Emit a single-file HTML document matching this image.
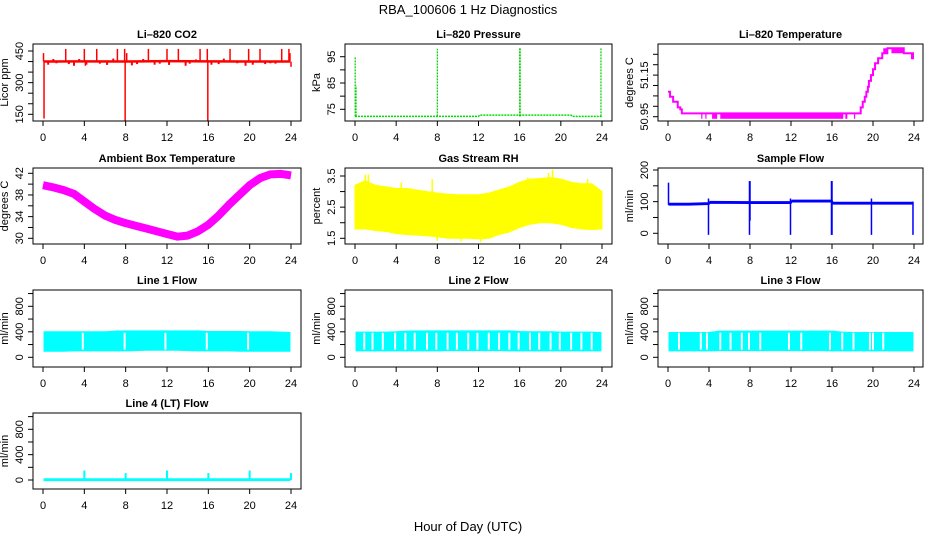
<!DOCTYPE html>
<html><head><meta charset="utf-8"><style>
body{margin:0;background:#fff;}
svg{display:block;font-family:"Liberation Sans",Arial,sans-serif;}
</style></head><body>
<svg id="chart" width="936" height="540" viewBox="0 0 936 540" xmlns="http://www.w3.org/2000/svg">
<rect width="936" height="540" fill="#fff"/>
<text x="468" y="14" text-anchor="middle" font-size="13">RBA_100606  1 Hz Diagnostics</text>
<text x="468" y="531" text-anchor="middle" font-size="13">Hour of Day (UTC)</text>
</svg>
<script>
const xTicks=[0,4,8,12,16,20,24];
// CO2
const co2BaseHours=[0.1,4,8,12,16,20,23.9];
const co2BaseVals=[400,401,400,402,401,400,400];
const co2SpikeHours=[0.05,0.1,2.2,4.0,4.1,5.2,7.2,7.9,7.95,8.1,10.2,12.0,13.1,15.2,15.9,15.95,18.1,19.9,21.0,23.1,23.8,23.9,24.0];
const co2SpikeVals=[440,130,460,460,380,460,460,460,118,440,460,460,460,460,460,118,460,460,460,460,460,440,375];
const co2SmallHours=[0.5,1.3,2.5,3.0,4.2,5.5,6.2,8.6,9.1,10.8,11.3,12.2,13.8,14.2,16.3,17.0,18.8,19.6,20.3,21.5,22.0,22.5,1.0,3.5,6.8,9.7,14.8,17.5];
const co2SmallVals=[385,392,388,380,385,390,384,382,388,385,390,384,380,390,385,388,392,380,385,388,392,390,412,412,414,412,410,414];
// Pressure
const presBaseHours=[0,12,12.1,21,21.1,24];
const presBaseVals=[72.3,72.3,72.8,72.8,72.3,72.3];
const presSpikeHours=[0.02,0.1,8.0,16.0,16.05,23.9];
const presSpikeVals=[95,84,98,98.3,98.3,98.3];
// Li-820 temperature
const tempHours=[0,0.2,0.5,0.95,1.2,1.35,18.8,19.0,19.2,19.35,19.5,19.6,19.8,20.0,20.2,20.5,20.9,21.4,21.8,23.0,23.8,23.9,24];
const tempVals=[51.07,51.046,51.022,50.995,50.985,50.966,50.995,51.022,51.046,51.07,51.094,51.122,51.15,51.178,51.207,51.231,51.255,51.279,51.279,51.255,51.231,51.255,51.255];
const tempBandStart=[4.3,5.1,17.3,21.0,21.8];
const tempBandEnd=[4.8,17.1,17.5,21.4,23.0];
const tempBandLo=[50.94,50.94,50.94,51.255,51.255];
const tempBandHi=[50.966,50.966,50.966,51.279,51.279];
const tempDipHours=[3.3,3.7,18.2];
// Ambient
const ambHours=[0,1,2,3,4,5,6,7,8,9,10,11,12,13,14,15,16,17,18,19,20,21,22,23,24];
const ambVals=[39.8,39.4,38.9,38.2,36.8,35.4,34.2,33.4,32.8,32.3,31.8,31.3,30.8,30.3,30.5,31.3,32.5,34.2,36.2,38.0,39.8,41.1,41.8,41.9,41.6];
// RH
const rhHours=[0,1,2,3,4,5,6,7,8,9,10,11,12,13,14,15,16,17,18,19,20,21,22,23,24];
const rhLo=[1.8,1.8,1.75,1.72,1.65,1.62,1.6,1.58,1.55,1.5,1.5,1.5,1.48,1.5,1.62,1.7,1.85,1.95,2.0,2.0,1.95,1.85,1.8,1.78,1.8];
const rhHi=[3.2,3.35,3.2,3.15,3.1,3.1,3.05,3.0,2.95,2.92,2.9,2.9,2.9,2.95,3.05,3.15,3.3,3.4,3.42,3.45,3.4,3.3,3.25,3.25,3.0];
const rhSpikeHours=[1.0,1.3,7.5,19.2,18.8,12.2,10.3,8.0,4.5,16.8,22.6];
const rhSpikeVals=[3.55,3.55,3.4,3.7,3.6,1.38,1.4,1.42,3.3,3.45,3.4];
// Sample flow
const flowBaseHours=[0.1,2,4,4.1,8,12,12.1,16,16.1,20,23.9];
const flowBaseVals=[92,92,94,98,97,97,102,102,95,95,95];
const flowEvtHours=[0.05,3.95,7.95,8.0,11.95,15.95,16.0,19.85,23.9];
const flowEvtMax=[160,110,165,165,110,165,165,110,100];
const flowEvtMin=[90,-5,-5,40,-5,-5,-5,-5,-5];
// Line flows
const lineHours=[0.1,1,2,3,4,5,6,7,8,9,10,11,12,13,14,15,16,17,18,19,20,21,22,23,23.9];
const line1Top=[400,400,400,400,400,400,400,410,415,415,415,415,415,415,415,415,405,405,405,405,400,400,400,395,390];
const line1Bot=[95,95,95,100,100,100,100,100,100,105,110,110,110,110,105,100,100,100,100,95,95,95,95,95,95];
const line1Gaps=[3.85,7.9,11.85,15.85,19.85];
const line2Top=[395,395,395,395,400,410,415,415,415,415,415,415,415,415,415,415,405,400,400,400,395,395,395,395,390];
const line2Bot=[100,100,100,100,100,100,100,100,100,105,105,105,105,105,105,100,100,100,100,100,100,100,100,100,100];
const line2Gaps=[0.9,1.7,2.7,3.9,4.9,5.8,7.0,7.9,9.0,9.9,11.0,11.9,13.0,14.0,15.0,15.9,17.0,17.9,19.0,19.9,21.0,22.0,23.0];
const line3Top=[390,390,390,390,390,410,410,410,410,410,410,410,410,410,410,410,410,395,390,390,390,390,390,390,390];
const line3Bot=[100,100,100,100,100,105,105,105,105,105,105,105,105,105,105,105,100,100,100,100,100,100,100,100,100];
const line3Gaps=[1.07,3.2,3.8,5.1,6.1,7.2,7.9,9.0,11.8,13.0,15.8,17.0,18.1,19.7,20.0,21.0];
const line4Top=[20,20,20,20,20,20,20,20,20,20,20,20,20,20,20,20,20,20,20,20,20,20,20,20,20];
const line4Bot=[-10,-10,-10,-10,-10,-10,-10,-10,-10,-10,-10,-10,-10,-10,-10,-10,-10,-10,-10,-10,-10,-10,-10,-10,-10];
const line4SpikeHours=[4,8,12,16,20,24];
const line4SpikeVals=[150,110,150,110,150,110];

const svg=document.getElementById('chart');
const NS='http://www.w3.org/2000/svg';
function mk(tag,attrs,parent){const e=document.createElementNS(NS,tag);for(const k in attrs)e.setAttribute(k,attrs[k]);(parent||svg).appendChild(e);return e;}

const cols=[{l:33,r:301,x0:43,x24:291},{l:345,r:612,x0:355,x24:602},{l:658,r:923,x0:668,x24:914}];
const rows=[{t:44,b:121},{t:168,b:244},{t:290,b:367},{t:413,b:489}];

function panel(name,ci,ri,title,ylab,va,pa,vb,pb,yticks,ylabels){
  const c=cols[ci],r=rows[ri];
  const g=mk('g',{});
  
  
  const sx=h=>c.x0+(h/24)*(c.x24-c.x0);
  const sy=v=>pa+(v-va)*(pb-pa)/(vb-va);
  const clip=mk('clipPath',{id:'clip-'+name},g);
  mk('rect',{x:c.l,y:r.t,width:c.r-c.l,height:r.b-r.t},clip);
  const plot=mk('g',{'clip-path':'url(#clip-'+name+')'},g);
  
  
  const box=mk('rect',{x:c.l,y:r.t,width:c.r-c.l,height:r.b-r.t,fill:'none',stroke:'#000','stroke-width':1},g);
  
  
  const tt=mk('text',{x:(c.l+c.r)/2,y:r.t-6,'text-anchor':'middle','font-size':11,'font-weight':'bold'},g);
  tt.textContent=title;
  
  
  const xa=mk('g',{},g);
  
  
  xTicks.forEach(h=>{
    mk('line',{x1:sx(h),x2:sx(h),y1:r.b,y2:r.b+5,stroke:'#000'},xa);
    const t=mk('text',{x:sx(h),y:r.b+20,'text-anchor':'middle','font-size':11},xa);
    t.textContent=h;
    
    
  });
  const ya=mk('g',{},g);
  
  
  yticks.forEach(v=>{mk('line',{x1:c.l-5,x2:c.l,y1:sy(v),y2:sy(v),stroke:'#000'},ya);});
  ylabels.forEach(v=>{
    const x=c.l-10,y=sy(v);
    const t=mk('text',{x:x,y:y,'text-anchor':'middle','font-size':11,transform:'rotate(-90 '+x+' '+y+')'},ya);
    t.textContent=v;
    
    
  });
  const lx=c.l-25,ly=(r.t+r.b)/2;
  const yl=mk('text',{x:lx,y:ly,'text-anchor':'middle','font-size':11,transform:'rotate(-90 '+lx+' '+ly+')'},g);
  yl.textContent=ylab;
  
  
  return {sx,sy,plot};
}
function seq(a,b,s){const o=[];for(let v=a;v<=b+1e-9;v+=s)o.push(+v.toFixed(3));return o;}
function vline(p,x,y1,y2,col,w,nm){const l=mk('line',{x1:x,x2:x,y1:y1,y2:y2,stroke:col,'stroke-width':w},p.plot);return l;}
function poly(p,hs,vs,col,w,nm,dash){const pts=hs.map((h,i)=>p.sx(h)+','+p.sy(vs[i])).join(' ');const l=mk('polyline',{points:pts,fill:'none',stroke:col,'stroke-width':w,'stroke-linejoin':'round'},p.plot);if(dash)l.setAttribute('stroke-dasharray',dash);return l;}
function band(p,hs,lo,hi,col,nm){const pts=hs.map((h,i)=>p.sx(h)+','+p.sy(hi[i])).concat(hs.slice().reverse().map((h,j)=>{const i=hs.length-1-j;return p.sx(h)+','+p.sy(lo[i]);})).join(' ');const e=mk('polygon',{points:pts,fill:col,stroke:col,'stroke-width':1},p.plot);return e;}

// CO2
let p=panel('co2',0,0,'Li\u2013820 CO2','Licor ppm',150,114.3,450,51,seq(150,450,50),[150,300,450]);
co2SmallHours.forEach((h,i)=>vline(p,p.sx(h),p.sy(400),p.sy(co2SmallVals[i]),'#ff0000',2,'co2-small-spike'));
poly(p,co2BaseHours,co2BaseVals,'#ff0000',2.5,'co2-series');
co2SpikeHours.forEach((h,i)=>vline(p,p.sx(h),p.sy(400),p.sy(co2SpikeVals[i]),'#ff0000',1.5,'co2-spike'));

// Pressure
p=panel('pressure',1,0,'Li\u2013820 Pressure','kPa',75,109.3,95,56.7,seq(75,95,5),[75,85,95]);
poly(p,presBaseHours,presBaseVals,'#00dd00',1.5,'pressure-series','2 1');
presSpikeHours.forEach((h,i)=>vline(p,p.sx(h),p.sy(72.3),p.sy(presSpikeVals[i]),'#00cc00',1.2,'pressure-spike').setAttribute('stroke-dasharray','2 1'));

// Li-820 temperature
p=panel('li820-temperature',2,0,'Li\u2013820 Temperature','degrees C',50.95,116.7,51.25,54.3,seq(50.95,51.25,0.05),[50.95,51.15]);
{let pts=[];tempHours.forEach((h,i)=>{if(i>0)pts.push(p.sx(h)+','+p.sy(tempVals[i-1]));pts.push(p.sx(h)+','+p.sy(tempVals[i]));});
const l=mk('polyline',{points:pts.join(' '),fill:'none',stroke:'#ff00ff','stroke-width':2},p.plot);

}
tempBandStart.forEach((s,i)=>{const r=mk('rect',{x:p.sx(s),y:p.sy(tempBandHi[i]),width:p.sx(tempBandEnd[i])-p.sx(s),height:p.sy(tempBandLo[i])-p.sy(tempBandHi[i]),fill:'#ff00ff'},p.plot);

});
tempDipHours.forEach(h=>vline(p,p.sx(h),p.sy(50.966),p.sy(50.94),'#ff00ff',1.2,'li820-temperature-dip'));

// Ambient
p=panel('ambient-temperature',0,1,'Ambient Box Temperature','degrees C',30,238.3,42,173.3,seq(30,42,2),[30,34,38,42]);
poly(p,ambHours,ambVals,'#ff00ff',8,'ambient-temperature-series');

// RH
p=panel('gas-stream-rh',1,1,'Gas Stream RH','percent',1.5,238.3,3.5,176,seq(1.5,3.5,0.5),[1.5,2.5,3.5]);
band(p,rhHours,rhLo,rhHi,'#ffff00','gas-stream-rh-band');
rhSpikeHours.forEach((h,i)=>vline(p,p.sx(h),p.sy(2.5),p.sy(rhSpikeVals[i]),'#ffff00',1.5,'gas-stream-rh-spike'));

// Sample flow
p=panel('sample-flow',2,1,'Sample Flow','ml/min',0,233.3,200,170,seq(0,200,50),[0,100,200]);
band(p,flowBaseHours,flowBaseVals.map(v=>v-3),flowBaseVals.map(v=>v+3),'#0000ff','sample-flow-band');
flowEvtHours.forEach((h,i)=>vline(p,p.sx(h),p.sy(flowEvtMin[i]),p.sy(flowEvtMax[i]),'#0000ff',1.5,'sample-flow-event'));

// Line flows
const lineDefs=[['line1-flow',0,2,'Line 1 Flow',line1Top,line1Bot,line1Gaps],['line2-flow',1,2,'Line 2 Flow',line2Top,line2Bot,line2Gaps],['line3-flow',2,2,'Line 3 Flow',line3Top,line3Bot,line3Gaps]];
lineDefs.forEach(d=>{
  const q=panel(d[0],d[1],d[2],d[3],'ml/min',0,357.3,800,306.3,seq(0,1000,200),[0,400,800]);
  band(q,lineHours,d[5],d[4],'#00ffff',d[0]+'-band');
  d[6].forEach(h=>vline(q,q.sx(h),q.sy(385),q.sy(120),'#ffffff',2,d[0]+'-gap'));
});
p=panel('line4-flow',0,3,'Line 4 (LT) Flow','ml/min',0,480,800,429.3,seq(0,1000,200),[0,400,800]);
band(p,lineHours,line4Bot,line4Top,'#00ffff','line4-flow-band');
line4SpikeHours.forEach((h,i)=>vline(p,p.sx(h),p.sy(0),p.sy(line4SpikeVals[i]),'#00ffff',2,'line4-flow-spike'));
</script>
</body></html>
